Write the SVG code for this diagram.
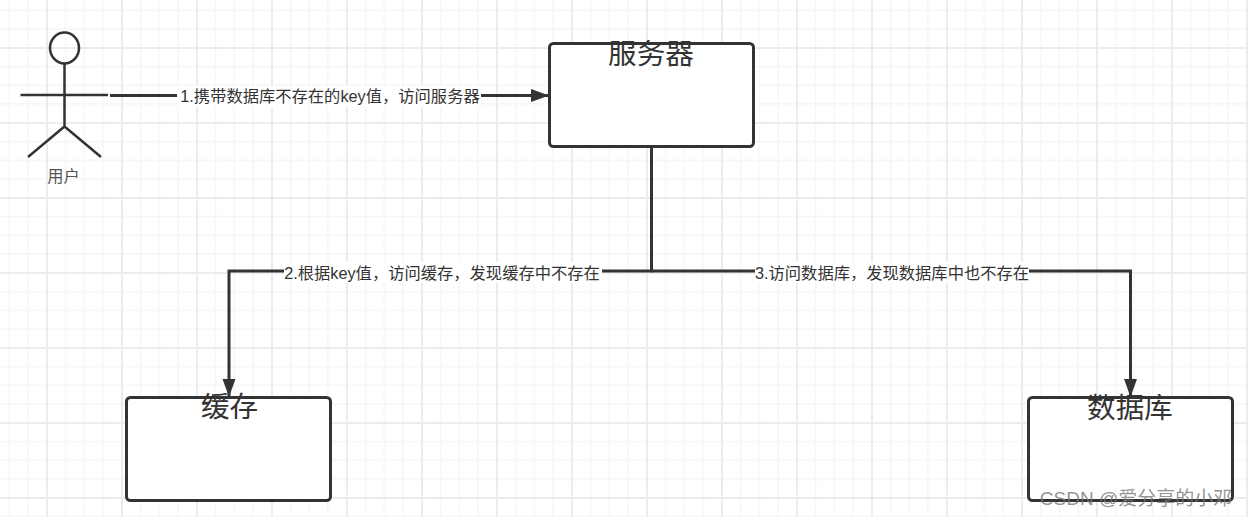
<svg xmlns="http://www.w3.org/2000/svg" width="1248" height="517" viewBox="0 0 1248 517">
<style>
.box{fill:#fff;stroke:#333;stroke-width:3}
.lbl{font-family:"Noto Sans CJK SC","Liberation Sans",sans-serif;font-size:28.600px;fill:#333;text-anchor:middle}
.edge{font-family:"Liberation Sans","Noto Sans CJK SC",sans-serif;font-size:16.300px;fill:#333;text-anchor:middle}
.bg{fill:#fff}
.conn{fill:none;stroke:#333;stroke-width:3}
.actor{fill:none;stroke:#333;stroke-width:2.500}
</style>
<defs>
<pattern id="minor" x="8.500" y="9.500" width="18.750" height="18.750" patternUnits="userSpaceOnUse"><path d="M0 0V18.750M0 0H18.750" fill="none" stroke="#f5f5f5" stroke-width="3"/></pattern>
<pattern id="major" x="46" y="47" width="75" height="75" patternUnits="userSpaceOnUse"><path d="M0 0V75M0 0H75" fill="none" stroke="#ececec" stroke-width="4"/></pattern>
<marker id="arrow" markerUnits="userSpaceOnUse" markerWidth="20" markerHeight="16" refX="18" refY="8" orient="auto"><path d="M0 1.500L18 8L0 14.500L0 8Z" fill="#333"/></marker>
</defs>
<rect width="1248" height="517" fill="#fff"/>
<rect width="1248" height="517" fill="url(#minor)"/>
<rect width="1248" height="517" fill="url(#major)"/>
<g id="connectors">
<path class="conn" d="M110 95.500H549" marker-end="url(#arrow)"/>
<path class="conn" d="M651.500 146V271H229V397" marker-end="url(#arrow)"/>
<path class="conn" d="M651.500 271H1130.500V397" marker-end="url(#arrow)"/>
<rect class="bg" x="177" y="86" width="304" height="21"/>
<text class="edge" x="330" y="101.500">1.携带数据库不存在的key值，访问服务器</text>
<rect class="bg" x="284" y="262" width="318" height="21"/>
<text class="edge" x="442" y="279">2.根据key值，访问缓存，发现缓存中不存在</text>
<rect class="bg" x="755" y="262" width="274" height="21"/>
<text class="edge" x="892" y="279">3.访问数据库，发现数据库中也不存在</text>
</g>
<g id="user">
<ellipse class="actor" cx="64.500" cy="48" rx="14.500" ry="15.500"/>
<path class="actor" d="M64.500 63.500V126.500M20.500 95H108M64.500 126.500L28 157M64.500 126.500L101 157"/>
<text x="63.500" y="181.500" font-family="'Noto Sans CJK SC',sans-serif" font-size="16.300" fill="#555" text-anchor="middle">用户</text>
</g>
<g id="server">
<rect class="box" x="549.500" y="43.500" width="204" height="103" rx="4"/>
<text class="lbl" x="651" y="64">服务器</text>
</g>
<g id="cache">
<rect class="box" x="126.500" y="397.500" width="204" height="103" rx="4"/>
<text class="lbl" x="229.500" y="417">缓存</text>
</g>
<g id="database">
<rect class="box" x="1028.500" y="397.500" width="204" height="103" rx="4"/>
<text class="lbl" x="1130" y="418">数据库</text>
</g>
<text x="1136" y="505" font-family="'Liberation Sans','Noto Sans CJK SC',sans-serif" font-size="19" fill="#777" fill-opacity="0.8" text-anchor="middle">CSDN @爱分享的小邓</text>
</svg>
